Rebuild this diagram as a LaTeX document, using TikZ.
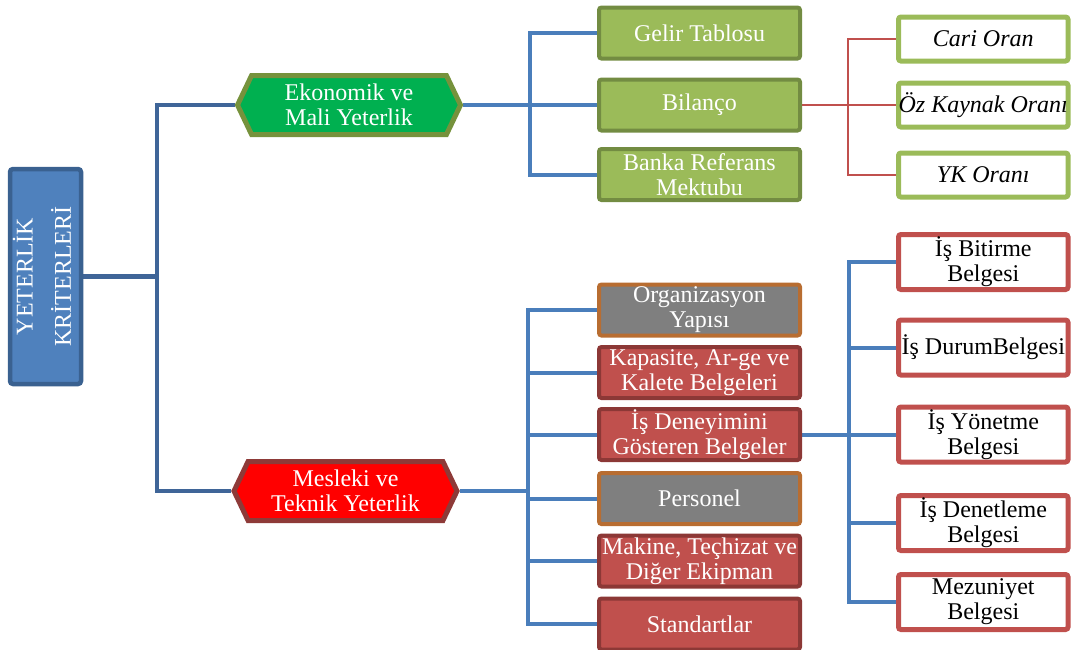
\documentclass[tikz,border=0pt]{standalone}
\usepackage{fontspec}
\setmainfont{Liberation Serif}
\usetikzlibrary{shapes.symbols}

\definecolor{rootFill}{HTML}{4F81BD}
\definecolor{rootEdge}{HTML}{3A6190}
\definecolor{rootLine}{HTML}{3F6598}
\definecolor{connBlue}{HTML}{4A7EBB}
\definecolor{hexGreen}{HTML}{00B050}
\definecolor{olive}{HTML}{76923C}
\definecolor{hexRed}{HTML}{FF0000}
\definecolor{darkRed}{HTML}{8E3A38}
\definecolor{leaf}{HTML}{9BBB59}
\definecolor{leafEdge}{HTML}{738C42}
\definecolor{greyFill}{HTML}{7F7F7F}
\definecolor{amber}{HTML}{B86D31}
\definecolor{brick}{HTML}{C0504D}
\definecolor{brickEdge}{HTML}{8C3836}

\pgfdeclarelayer{bg}
\pgfsetlayers{bg,main}

\begin{document}
\begin{tikzpicture}[x=1pt,y=-1pt,
  txt/.style={font=\fontsize{24}{25}\selectfont, align=center, inner sep=0pt},
  rootbox/.style={txt, rectangle, rounded corners=3pt, fill=rootFill, draw=rootEdge,
    line width=4.5pt, minimum width=71pt, minimum height=215pt, text=white},
  hexbox/.style={txt, shape=signal, signal to=west and east, signal pointer angle=129,
    line width=5pt, minimum width=223pt, minimum height=59pt, text=white},
  box/.style={txt, rectangle, rounded corners=2.5pt, line width=4pt,
    minimum width=201pt, minimum height=51pt, text=white},
  greenbox/.style={box, fill=leaf, draw=leafEdge},
  greybox/.style={box, fill=greyFill, draw=amber},
  redbox/.style={box, fill=brick, draw=brickEdge},
  ratiobox/.style={txt, rectangle, rounded corners=2.5pt, line width=5pt, fill=white,
    draw=leaf, minimum width=169.5pt, minimum height=44pt, text=black,
    font=\fontsize{24}{25}\selectfont\itshape},
  docbox/.style={txt, rectangle, rounded corners=2.5pt, line width=5pt, fill=white,
    draw=brick, minimum width=169.5pt, minimum height=55pt, text=black},
  rootconn/.style={draw=rootLine, line width=4.5pt},
  conn/.style={draw=connBlue, line width=4pt},
  thinconn/.style={draw=brick, line width=2pt}
]
\useasboundingbox (0,0) rectangle (1071,649);

% root
\node[rootbox] (root) at (45.5,276.5)
  {\rotatebox{90}{\begin{tabular}{@{}c@{}}YETERLİK\\[11pt]KRİTERLERİ\end{tabular}}};

% second level
\node[hexbox, fill=hexGreen, draw=olive] (hex1) at (349,105) {Ekonomik ve\\Mali Yeterlik};
\node[hexbox, fill=hexRed, draw=darkRed] (hex2) at (345.5,491) {Mesleki ve\\Teknik Yeterlik};

% economic branch
\node[greenbox] (g1) at (699.5,33) {Gelir Tablosu};
\node[greenbox] (g2) at (699.5,105) {Bilanço};
\node[greenbox] (g3) at (699.5,174.5) {Banka Referans\\Mektubu};

\node[ratiobox] (r1) at (983.25,39) {Cari Oran};
\node[ratiobox] (r2) at (983.25,105) {Öz Kaynak Oranı};
\node[ratiobox] (r3) at (983.25,175) {YK Oranı};

% technical branch
\node[greybox] (o1) at (699.5,310) {Organizasyon\\Yapısı};
\node[redbox]  (o2) at (699.5,372.5) {Kapasite, Ar-ge ve\\Kalete Belgeleri};
\node[redbox]  (o3) at (699.5,434.5) {İş Deneyimini\\Gösteren Belgeler};
\node[greybox] (o4) at (699.5,498.5) {Personel};
\node[redbox]  (o5) at (699.5,561) {Makine, Teçhizat ve\\Diğer Ekipman};
\node[redbox]  (o6) at (699.5,624) {Standartlar};

\node[docbox] (d1) at (983.25,262) {İş Bitirme\\Belgesi};
\node[docbox] (d2) at (983.25,347.5) {İş DurumBelgesi};
\node[docbox] (d3) at (983.25,434.5) {İş Yönetme\\Belgesi};
\node[docbox] (d4) at (983.25,523) {İş Denetleme\\Belgesi};
\node[docbox] (d5) at (983.25,602) {Mezuniyet\\Belgesi};

% branching points
\coordinate (j1) at (157,276.5);
\coordinate (j2) at (530,105);
\coordinate (j3) at (528,491);
\coordinate (j4) at (848,105);
\coordinate (j5) at (849,434.5);

\begin{pgfonlayer}{bg}
  \draw[rootconn] (root.east) -- (j1);
  \draw[rootconn] (hex1.west) -| (j1) |- (hex2.west);

  \draw[conn] (g1.west) -| (j2) |- (g3.west);
  \draw[conn] (hex1.east) -- (g2.west);

  \draw[thinconn] (r1.west) -| (j4) |- (r3.west);
  \draw[thinconn] (g2.east) -- (r2.west);

  \draw[conn] (o1.west) -| (j3) |- (o6.west);
  \draw[conn] (hex2.east) -- (j3);
  \draw[conn] (o2.west) -- (o2.west -| j3);
  \draw[conn] (o3.west) -- (o3.west -| j3);
  \draw[conn] (o4.west) -- (o4.west -| j3);
  \draw[conn] (o5.west) -- (o5.west -| j3);

  \draw[conn] (d1.west) -| (j5) |- (d5.west);
  \draw[conn] (o3.east) -- (d3.west);
  \draw[conn] (d2.west) -- (d2.west -| j5);
  \draw[conn] (d4.west) -- (d4.west -| j5);
\end{pgfonlayer}
\end{tikzpicture}
\end{document}
